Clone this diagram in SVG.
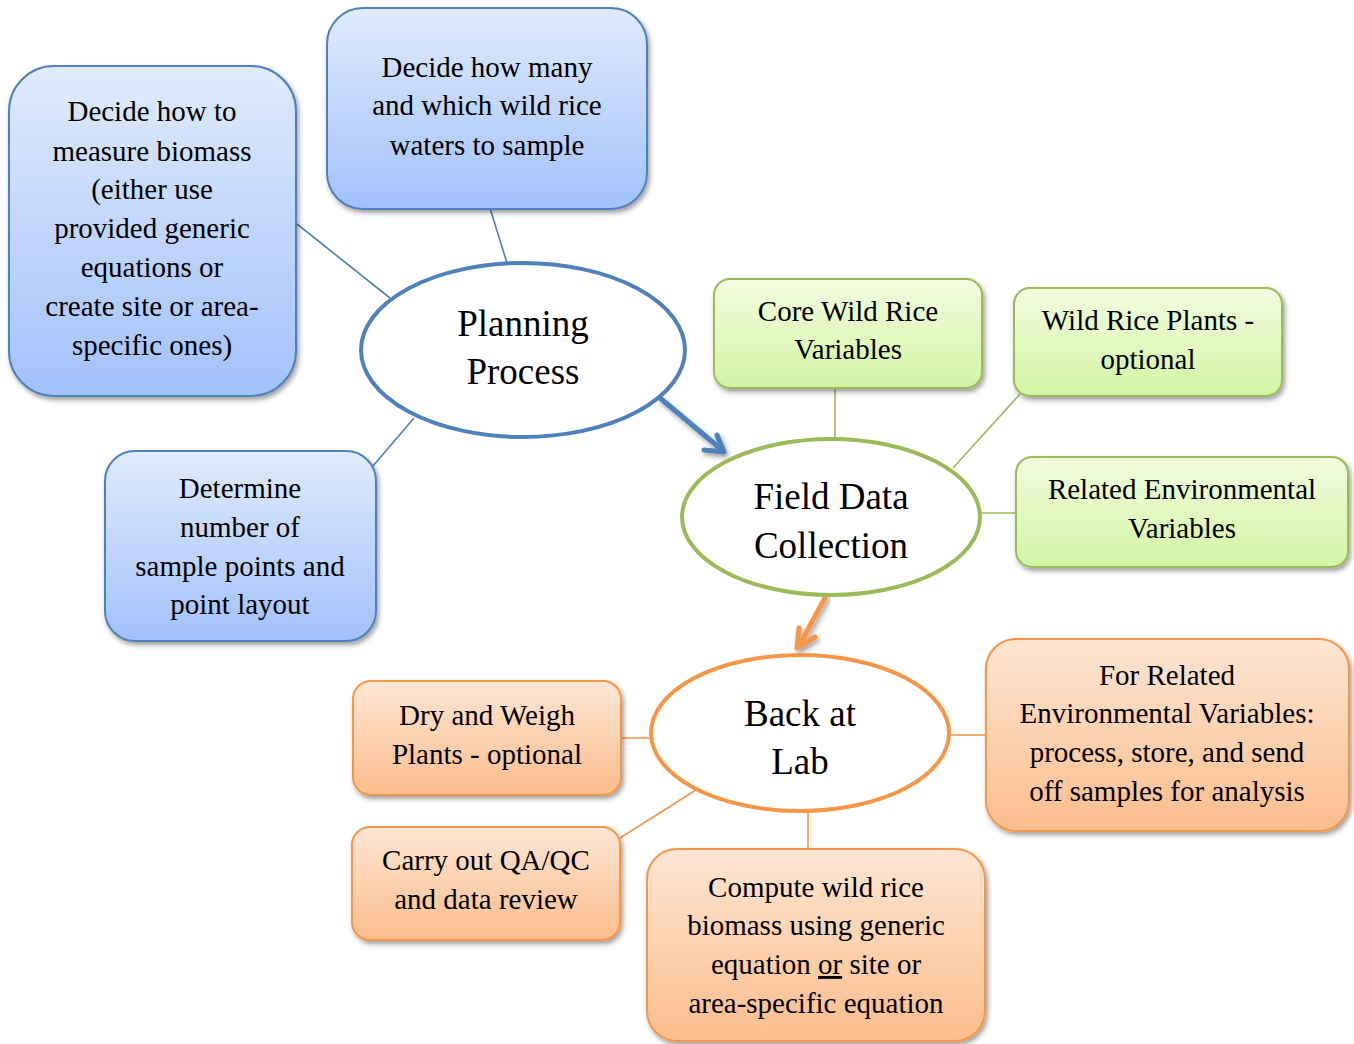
<svg xmlns="http://www.w3.org/2000/svg" width="1354" height="1044" viewBox="0 0 1354 1044">
  <defs>
    <linearGradient id="gBlue" x1="0" y1="0" x2="0" y2="1">
      <stop offset="0" stop-color="#e0ebfd"/>
      <stop offset="1" stop-color="#a2c1fb"/>
    </linearGradient>
    <linearGradient id="gGreen" x1="0" y1="0" x2="0" y2="1">
      <stop offset="0" stop-color="#f2fcdf"/>
      <stop offset="1" stop-color="#d2f5a4"/>
    </linearGradient>
    <linearGradient id="gOrange" x1="0" y1="0" x2="0" y2="1">
      <stop offset="0" stop-color="#fee6d4"/>
      <stop offset="1" stop-color="#fbbd8c"/>
    </linearGradient>
    <filter id="shadow" x="-10%" y="-10%" width="125%" height="130%">
      <feDropShadow dx="2" dy="3" stdDeviation="2.5" flood-color="#000" flood-opacity="0.38"/>
    </filter>
  </defs>
  <style>
    text { font-family: "Liberation Serif", "Times New Roman", serif; fill: #000; text-anchor: middle; }
    .box { font-size: 29px; }
    .hub { font-size: 37px; }
    .blue { fill: url(#gBlue); stroke: #4f81bd; stroke-width: 2; filter: url(#shadow); }
    .green { fill: url(#gGreen); stroke: #9bbb59; stroke-width: 2; filter: url(#shadow); }
    .orange { fill: url(#gOrange); stroke: #f79646; stroke-width: 2; filter: url(#shadow); }
    .lb { stroke: #4f81bd; stroke-width: 1.6; fill: none; }
    .lg { stroke: #9bbb59; stroke-width: 1.6; fill: none; }
    .lo { stroke: #f79646; stroke-width: 1.6; fill: none; }
    .arrow { fill: none; stroke-width: 5; stroke-linecap: round; stroke-linejoin: round; filter: url(#shadow); }
  </style>

  <rect width="1354" height="1044" fill="#ffffff"/>

  <!-- connectors -->
  <g id="connectors">
    <line class="lb" x1="297" y1="224" x2="390" y2="298"/>
    <line class="lb" x1="489" y1="205" x2="507" y2="263"/>
    <line class="lb" x1="414" y1="418" x2="373" y2="466"/>
    <line class="lg" x1="835" y1="388" x2="835" y2="439"/>
    <line class="lg" x1="1020" y1="394" x2="953" y2="468"/>
    <line class="lg" x1="982" y1="513" x2="1017" y2="513"/>
    <line class="lo" x1="621" y1="738" x2="651" y2="738"/>
    <line class="lo" x1="620" y1="838" x2="696" y2="790"/>
    <line class="lo" x1="808" y1="811" x2="808" y2="850"/>
    <line class="lo" x1="949" y1="735" x2="987" y2="735"/>
    <!-- flow arrows between stages -->
    <g class="arrow" stroke="#4f81bd">
      <line x1="660" y1="398" x2="722" y2="450"/>
      <polyline points="717,435 724,452 704,450"/>
    </g>
    <g class="arrow" stroke="#f79646">
      <line x1="826" y1="596" x2="799" y2="646"/>
      <polyline points="799,628 797,648 815,637"/>
    </g>
  </g>

  <!-- planning stage -->
  <g id="planning">
    <ellipse cx="523" cy="350" rx="162" ry="87" fill="#fff" stroke="#4f81bd" stroke-width="4"/>
    <text class="hub" x="523" y="336">Planning</text>
    <text class="hub" x="523" y="384">Process</text>
  </g>
  <g id="biomass-method">
    <rect class="blue" x="9" y="66" width="287" height="330" rx="45"/>
    <text class="box" x="152" y="121">Decide how to</text>
    <text class="box" x="152" y="161">measure biomass</text>
    <text class="box" x="152" y="199">(either use</text>
    <text class="box" x="152" y="238">provided generic</text>
    <text class="box" x="152" y="277">equations or</text>
    <text class="box" x="152" y="316">create site or area-</text>
    <text class="box" x="152" y="355">specific ones)</text>
  </g>
  <g id="waters">
    <rect class="blue" x="327" y="8" width="320" height="201" rx="36"/>
    <text class="box" x="487" y="77">Decide how many</text>
    <text class="box" x="487" y="115">and which wild rice</text>
    <text class="box" x="487" y="155">waters to sample</text>
  </g>
  <g id="sample-points">
    <rect class="blue" x="105" y="451" width="271" height="190" rx="30"/>
    <text class="box" x="240" y="498">Determine</text>
    <text class="box" x="240" y="537">number of</text>
    <text class="box" x="240" y="576">sample points and</text>
    <text class="box" x="240" y="614">point layout</text>
  </g>

  <!-- field stage -->
  <g id="field">
    <ellipse cx="831" cy="517" rx="149" ry="78" fill="#fff" stroke="#9bbb59" stroke-width="4"/>
    <text class="hub" x="831" y="509">Field Data</text>
    <text class="hub" x="831" y="558">Collection</text>
  </g>
  <g id="core-vars">
    <rect class="green" x="714" y="279" width="268" height="109" rx="16"/>
    <text class="box" x="848" y="321">Core Wild Rice</text>
    <text class="box" x="848" y="359">Variables</text>
  </g>
  <g id="plants-optional">
    <rect class="green" x="1014" y="288" width="268" height="108" rx="16"/>
    <text class="box" x="1148" y="330">Wild Rice Plants -</text>
    <text class="box" x="1148" y="369">optional</text>
  </g>
  <g id="env-vars">
    <rect class="green" x="1016" y="457" width="332" height="110" rx="16"/>
    <text class="box" x="1182" y="499">Related Environmental</text>
    <text class="box" x="1182" y="538">Variables</text>
  </g>

  <!-- lab stage -->
  <g id="lab">
    <ellipse cx="800" cy="733" rx="149" ry="78" fill="#fff" stroke="#f79646" stroke-width="4"/>
    <text class="hub" x="800" y="726">Back at</text>
    <text class="hub" x="800" y="774">Lab</text>
  </g>
  <g id="dry-weigh">
    <rect class="orange" x="353" y="681" width="268" height="114" rx="18"/>
    <text class="box" x="487" y="725">Dry and Weigh</text>
    <text class="box" x="487" y="764">Plants - optional</text>
  </g>
  <g id="qaqc">
    <rect class="orange" x="352" y="827" width="268" height="113" rx="18"/>
    <text class="box" x="486" y="870">Carry out QA/QC</text>
    <text class="box" x="486" y="909">and data review</text>
  </g>
  <g id="compute">
    <rect class="orange" x="647" y="849" width="338" height="192" rx="30"/>
    <text class="box" x="816" y="897">Compute wild rice</text>
    <text class="box" x="816" y="935">biomass using generic</text>
    <text class="box" x="816" y="974">equation <tspan text-decoration="underline">or</tspan> site or</text>
    <text class="box" x="816" y="1013">area-specific equation</text>
  </g>
  <g id="env-samples">
    <rect class="orange" x="986" y="639" width="363" height="192" rx="30"/>
    <text class="box" x="1167" y="685">For Related</text>
    <text class="box" x="1167" y="723">Environmental Variables:</text>
    <text class="box" x="1167" y="762">process, store, and send</text>
    <text class="box" x="1167" y="801">off samples for analysis</text>
  </g>
</svg>
